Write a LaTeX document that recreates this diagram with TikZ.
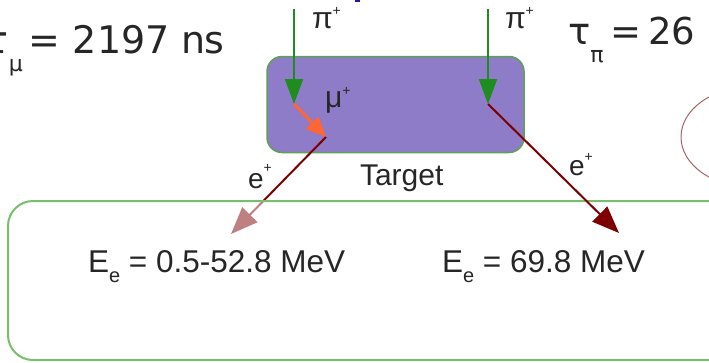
\documentclass[tikz,border=0pt]{standalone}
\usepackage{fontspec}
\setmainfont{Liberation Sans}
\newfontfamily\dvs{DejaVu Sans}
\usetikzlibrary{arrows.meta,shapes.geometric}
\definecolor{tgtfill}{RGB}{142,124,200}
\definecolor{tgtedge}{RGB}{95,160,85}
\definecolor{boxedge}{RGB}{120,190,110}
\definecolor{pigreen}{RGB}{30,140,30}
\definecolor{muorange}{RGB}{255,102,51}
\definecolor{emaroon}{RGB}{125,0,0}
\definecolor{ellcol}{RGB}{165,100,100}
\definecolor{titleblue}{RGB}{40,20,170}
\newcommand{\fsz}[1]{\fontsize{#1}{#1}\selectfont}
\newcommand{\lowr}[3]{\raisebox{-#1pt}{\fsz{#2}#3}}
\newcommand{\upr}[3]{\raisebox{#1pt}{\fsz{#2}#3}}
\begin{document}
\begin{tikzpicture}[x=1pt,y=-1pt,
  txt/.style={anchor=base west,inner sep=0pt,outer sep=0pt,text=black!85},
  piarrow/.style={draw=pigreen,line width=2pt,-{Triangle[length=25pt,width=18pt]}},
  muarrow/.style={draw=muorange,line width=3pt,-{Triangle[length=20pt,width=17pt]}},
  earrow/.style={draw=emaroon,line width=2pt,-{Triangle[length=27pt,width=21pt]}}]
\useasboundingbox (0,0) rectangle (709,362);
\clip (0,0) rectangle (709,362);

% cut-off title speck
\fill[titleblue] (355,0) rectangle (360,2);

% target
\node[draw=tgtedge,fill=tgtfill,line width=1.5pt,rounded corners=15pt,
      minimum width=257pt,minimum height=96pt,inner sep=0pt] (target) at (395.5,104.5) {};

% coordinates
\coordinate (p1s) at (294,9);
\coordinate (mu0) at (294,104);
\coordinate (mu1) at (326,137);
\coordinate (eL)  at (231,234);
\coordinate (p2s) at (488,9);
\coordinate (p2e) at (488,104);
\coordinate (eR)  at (619,233);

\draw[piarrow] (p1s) -- (mu0);
\draw[piarrow] (p2s) -- (p2e);
\draw[muarrow] (mu0) -- (mu1);
\draw[earrow] (mu1) -- (eL);

% lower box (semi-transparent white over left arrow)
\node[draw=boxedge,line width=2pt,fill=white,fill opacity=0.5,rounded corners=25pt,
      minimum width=735pt,minimum height=159pt,inner sep=0pt] (detbox) at (375.5,280.5) {};

\draw[earrow] (p2e) -- (eR);

% ellipse at right edge
\node[draw=ellcol,line width=1pt,ellipse,minimum width=140pt,minimum height=100pt,inner sep=0pt] (cell) at (751,137) {};

% texts
\node[txt] (taumu) at (-14,53) {\dvs\fsz{38}τ\lowr{18}{22}{μ}\hspace{-6pt} = 2197 n\hspace{-1pt}s};
\node[txt] (taupi) at (568,44) {\dvs\fsz{37}τ\lowr{18}{22}{π}\hspace{-5pt} =\hspace{-5pt} 26 ns};
\node[txt] (pi1) at (312,28) {\fsz{30}π\upr{13}{14}{+}};
\node[txt] (pi2) at (505,28) {\fsz{30}π\upr{13}{14}{+}};
\node[txt] (mulab) at (325,107) {\fsz{30}μ\upr{12}{14}{+}};
\node[txt] (elab1) at (248,188) {\fsz{28}e\upr{16}{14}{+}};
\node[txt] (elab2) at (569,175) {\fsz{28}e\upr{14}{14}{+}};
\node[txt] (tlab) at (360,185) {\fsz{30}Target};
\node[txt] (Ee1) at (88,272) {\fsz{31.5}E\lowr{10}{20}{e} = 0.5-52.8 MeV};
\node[txt] (Ee2) at (442,272) {\fsz{31.5}E\lowr{10}{20}{e} = 69.8 MeV};
\end{tikzpicture}
\end{document}
